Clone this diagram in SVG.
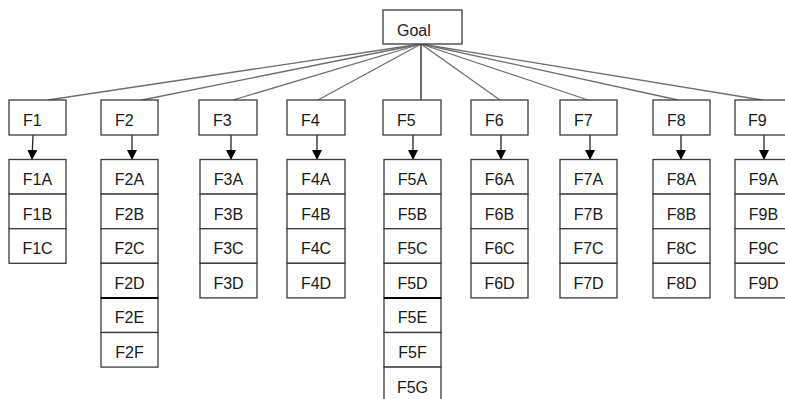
<svg xmlns="http://www.w3.org/2000/svg" width="785" height="399" viewBox="0 0 785 399">
<style>
.box{fill:#fff;stroke:#3a3a3a;stroke-width:1.3}
.sep{stroke:#000;stroke-width:2}
.t{font-family:"Liberation Sans",Arial,sans-serif;font-size:16px;fill:#1a1a1a}
.c{text-anchor:middle}
.ln{stroke:#6e6e6e;stroke-width:1.3;fill:none}
.ar{stroke:#222;stroke-width:1.3;fill:none}
</style>
<defs>
<marker id="ah" markerWidth="10" markerHeight="10" refX="9" refY="5" orient="auto" markerUnits="userSpaceOnUse">
<path d="M0,0 L10,5 L0,10 Z" fill="#000"/>
</marker>
</defs>
<rect width="785" height="399" fill="#fff"/>
<g id="connectors">
<line class="ln" x1="421" y1="44" x2="48" y2="100"/>
<line class="ln" x1="421" y1="44" x2="142" y2="100"/>
<line class="ln" x1="421" y1="44" x2="233" y2="100"/>
<line class="ln" x1="421" y1="44" x2="318" y2="100"/>
<line class="ln" x1="421" y1="44" x2="421" y2="100" style="stroke:#222"/>
<line class="ln" x1="421" y1="44" x2="500" y2="100"/>
<line class="ln" x1="421" y1="44" x2="588" y2="100"/>
<line class="ln" x1="421" y1="44" x2="678" y2="100"/>
<line class="ln" x1="421" y1="44" x2="762" y2="100"/>
<line class="ar" x1="33" y1="135" x2="32" y2="159" marker-end="url(#ah)"/>
<line class="ar" x1="132" y1="135" x2="132" y2="159" marker-end="url(#ah)"/>
<line class="ar" x1="231" y1="135" x2="231" y2="159" marker-end="url(#ah)"/>
<line class="ar" x1="317" y1="135" x2="317" y2="159" marker-end="url(#ah)"/>
<line class="ar" x1="413" y1="135" x2="413" y2="159" marker-end="url(#ah)"/>
<line class="ar" x1="501" y1="135" x2="501" y2="159" marker-end="url(#ah)"/>
<line class="ar" x1="590" y1="135" x2="590" y2="159" marker-end="url(#ah)"/>
<line class="ar" x1="681" y1="135" x2="681" y2="159" marker-end="url(#ah)"/>
<line class="ar" x1="764" y1="135" x2="764" y2="159" marker-end="url(#ah)"/>
</g>
<g id="goal"><rect class="box" x="383" y="10" width="79" height="34"/><text class="t" x="397" y="36">Goal</text></g>
<g id="F1"><rect class="box" x="9" y="100" width="57" height="35"/><text class="t" x="23" y="126">F1</text></g>
<g id="F2"><rect class="box" x="101" y="100" width="57" height="35"/><text class="t" x="115" y="126">F2</text></g>
<g id="F3"><rect class="box" x="199" y="100" width="58" height="35"/><text class="t" x="213" y="126">F3</text></g>
<g id="F4"><rect class="box" x="287" y="100" width="58" height="35"/><text class="t" x="301" y="126">F4</text></g>
<g id="F5"><rect class="box" x="383" y="100" width="58" height="35"/><text class="t" x="397" y="126">F5</text></g>
<g id="F6"><rect class="box" x="471" y="100" width="57" height="35"/><text class="t" x="485" y="126">F6</text></g>
<g id="F7"><rect class="box" x="560" y="100" width="57" height="35"/><text class="t" x="574" y="126">F7</text></g>
<g id="F8"><rect class="box" x="653" y="100" width="57" height="35"/><text class="t" x="667" y="126">F8</text></g>
<g id="F9"><rect class="box" x="735" y="100" width="57" height="35"/><text class="t" x="748" y="126">F9</text></g>

<g id="F1-sub">
<rect class="box" x="9" y="159.5" width="57" height="34.6"/><text class="t c" x="37.5" y="185">F1A</text>
<rect class="box" x="9" y="194.1" width="57" height="34.6"/><text class="t c" x="37.5" y="219.6">F1B</text>
<rect class="box" x="9" y="228.7" width="57" height="34.6"/><text class="t c" x="37.5" y="254.2">F1C</text>
</g>
<g id="F2-sub">
<rect class="box" x="101" y="159.5" width="57" height="34.6"/><text class="t c" x="129.5" y="185">F2A</text>
<rect class="box" x="101" y="194.1" width="57" height="34.6"/><text class="t c" x="129.5" y="219.6">F2B</text>
<rect class="box" x="101" y="228.7" width="57" height="34.6"/><text class="t c" x="129.5" y="254.2">F2C</text>
<rect class="box" x="101" y="263.3" width="57" height="34.6"/><text class="t c" x="129.5" y="288.8">F2D</text>
<rect class="box" x="101" y="297.9" width="57" height="34.6"/><text class="t c" x="129.5" y="323.4">F2E</text>
<rect class="box" x="101" y="332.5" width="57" height="34.6"/><text class="t c" x="129.5" y="358">F2F</text>
<line class="sep" x1="101" y1="297.9" x2="158" y2="297.9"/>
</g>
<g id="F3-sub">
<rect class="box" x="200" y="159.5" width="57" height="34.6"/><text class="t c" x="228.5" y="185">F3A</text>
<rect class="box" x="200" y="194.1" width="57" height="34.6"/><text class="t c" x="228.5" y="219.6">F3B</text>
<rect class="box" x="200" y="228.7" width="57" height="34.6"/><text class="t c" x="228.5" y="254.2">F3C</text>
<rect class="box" x="200" y="263.3" width="57" height="34.6"/><text class="t c" x="228.5" y="288.8">F3D</text>
</g>
<g id="F4-sub">
<rect class="box" x="287" y="159.5" width="58" height="34.6"/><text class="t c" x="316" y="185">F4A</text>
<rect class="box" x="287" y="194.1" width="58" height="34.6"/><text class="t c" x="316" y="219.6">F4B</text>
<rect class="box" x="287" y="228.7" width="58" height="34.6"/><text class="t c" x="316" y="254.2">F4C</text>
<rect class="box" x="287" y="263.3" width="58" height="34.6"/><text class="t c" x="316" y="288.8">F4D</text>
</g>
<g id="F5-sub">
<rect class="box" x="384" y="159.5" width="57" height="34.6"/><text class="t c" x="412.5" y="185">F5A</text>
<rect class="box" x="384" y="194.1" width="57" height="34.6"/><text class="t c" x="412.5" y="219.6">F5B</text>
<rect class="box" x="384" y="228.7" width="57" height="34.6"/><text class="t c" x="412.5" y="254.2">F5C</text>
<rect class="box" x="384" y="263.3" width="57" height="34.6"/><text class="t c" x="412.5" y="288.8">F5D</text>
<rect class="box" x="384" y="297.9" width="57" height="34.6"/><text class="t c" x="412.5" y="323.4">F5E</text>
<rect class="box" x="384" y="332.5" width="57" height="34.6"/><text class="t c" x="412.5" y="358">F5F</text>
<rect class="box" x="384" y="367.1" width="57" height="34.6"/><text class="t c" x="412.5" y="392.6">F5G</text>
<line class="sep" x1="384" y1="297.9" x2="441" y2="297.9"/>
</g>
<g id="F6-sub">
<rect class="box" x="471" y="159.5" width="57" height="34.6"/><text class="t c" x="499.5" y="185">F6A</text>
<rect class="box" x="471" y="194.1" width="57" height="34.6"/><text class="t c" x="499.5" y="219.6">F6B</text>
<rect class="box" x="471" y="228.7" width="57" height="34.6"/><text class="t c" x="499.5" y="254.2">F6C</text>
<rect class="box" x="471" y="263.3" width="57" height="34.6"/><text class="t c" x="499.5" y="288.8">F6D</text>
</g>
<g id="F7-sub">
<rect class="box" x="560" y="159.5" width="57" height="34.6"/><text class="t c" x="588.5" y="185">F7A</text>
<rect class="box" x="560" y="194.1" width="57" height="34.6"/><text class="t c" x="588.5" y="219.6">F7B</text>
<rect class="box" x="560" y="228.7" width="57" height="34.6"/><text class="t c" x="588.5" y="254.2">F7C</text>
<rect class="box" x="560" y="263.3" width="57" height="34.6"/><text class="t c" x="588.5" y="288.8">F7D</text>
</g>
<g id="F8-sub">
<rect class="box" x="653" y="159.5" width="57" height="34.6"/><text class="t c" x="681.5" y="185">F8A</text>
<rect class="box" x="653" y="194.1" width="57" height="34.6"/><text class="t c" x="681.5" y="219.6">F8B</text>
<rect class="box" x="653" y="228.7" width="57" height="34.6"/><text class="t c" x="681.5" y="254.2">F8C</text>
<rect class="box" x="653" y="263.3" width="57" height="34.6"/><text class="t c" x="681.5" y="288.8">F8D</text>
</g>
<g id="F9-sub">
<rect class="box" x="735" y="159.5" width="57" height="34.6"/><text class="t c" x="763.5" y="185">F9A</text>
<rect class="box" x="735" y="194.1" width="57" height="34.6"/><text class="t c" x="763.5" y="219.6">F9B</text>
<rect class="box" x="735" y="228.7" width="57" height="34.6"/><text class="t c" x="763.5" y="254.2">F9C</text>
<rect class="box" x="735" y="263.3" width="57" height="34.6"/><text class="t c" x="763.5" y="288.8">F9D</text>
</g>
</svg>
